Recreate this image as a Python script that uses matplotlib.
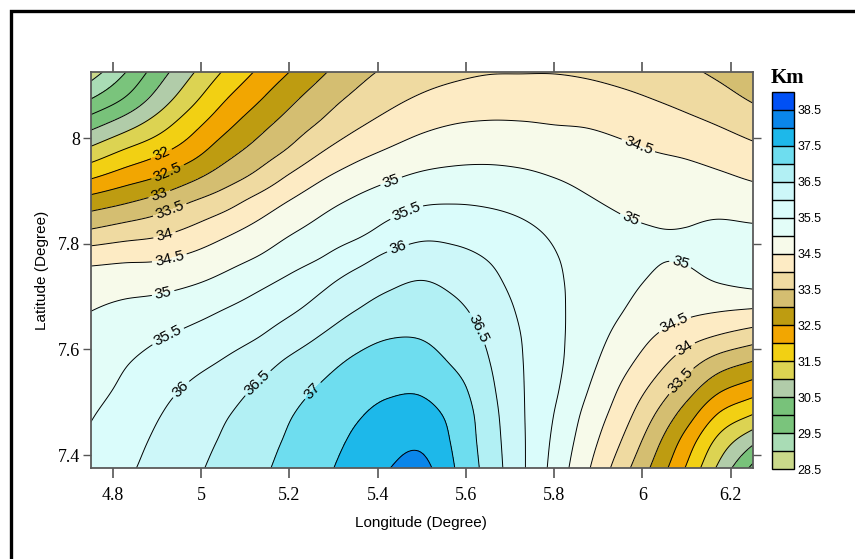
import numpy as np
import matplotlib
matplotlib.use("Agg")
import matplotlib.pyplot as plt
from matplotlib.patches import Rectangle

# Grid nodes (degrees)
lon_nodes = [4.75, 4.825, 4.9, 4.975, 5.05, 5.125, 5.2, 5.275, 5.35, 5.425, 5.5,
             5.575, 5.65, 5.725, 5.8, 5.875, 5.95, 6.025, 6.1, 6.175, 6.25]
lat_nodes = [7.375, 7.425, 7.475, 7.525, 7.575, 7.625, 7.675, 7.725,
             7.775, 7.825, 7.875, 7.925, 7.975, 8.025, 8.075, 8.125]

# Depth (km) at each node, one row per latitude (south to north)
depth_km = [
    [35.68, 35.91, 36.15, 36.39, 36.64, 36.89, 37.14, 37.40, 37.70, 37.99, 38.14, 37.50, 36.82, 36.10, 35.34, 34.57, 33.75, 32.90, 31.95, 30.87, 29.87],
    [35.58, 35.82, 36.07, 36.31, 36.55, 36.81, 37.06, 37.31, 37.58, 37.82, 37.90, 37.42, 36.77, 36.09, 35.41, 34.72, 34.01, 33.19, 32.28, 31.32, 30.60],
    [35.47, 35.71, 35.97, 36.21, 36.45, 36.70, 36.97, 37.22, 37.45, 37.63, 37.65, 37.35, 36.72, 36.07, 35.49, 34.86, 34.25, 33.52, 32.74, 31.92, 31.47],
    [35.34, 35.58, 35.84, 36.06, 36.28, 36.54, 36.81, 37.06, 37.29, 37.43, 37.44, 37.18, 36.63, 36.05, 35.58, 35.02, 34.46, 33.88, 33.24, 32.59, 32.24],
    [35.24, 35.46, 35.66, 35.85, 36.04, 36.29, 36.58, 36.84, 37.08, 37.22, 37.18, 36.94, 36.53, 36.03, 35.63, 35.15, 34.68, 34.22, 33.72, 33.25, 32.96],
    [35.12, 35.29, 35.45, 35.61, 35.77, 35.97, 36.24, 36.53, 36.81, 36.97, 36.97, 36.77, 36.43, 36.00, 35.63, 35.24, 34.87, 34.51, 34.20, 33.96, 33.75],
    [34.99, 35.09, 35.18, 35.32, 35.50, 35.70, 35.92, 36.20, 36.49, 36.68, 36.74, 36.60, 36.30, 35.93, 35.61, 35.30, 35.03, 34.79, 34.63, 34.54, 34.47],
    [34.79, 34.83, 34.85, 34.96, 35.14, 35.38, 35.62, 35.90, 36.21, 36.42, 36.53, 36.39, 36.14, 35.84, 35.58, 35.33, 35.11, 34.96, 34.91, 35.00, 35.10],
    [34.30, 34.38, 34.42, 34.57, 34.78, 35.00, 35.26, 35.50, 35.80, 36.09, 36.22, 36.13, 35.97, 35.75, 35.53, 35.31, 35.13, 35.02, 35.02, 35.11, 35.20],
    [33.54, 33.71, 33.85, 34.08, 34.36, 34.64, 34.93, 35.17, 35.36, 35.64, 35.84, 35.83, 35.74, 35.60, 35.42, 35.22, 35.07, 35.01, 35.01, 35.07, 35.06],
    [32.79, 33.00, 33.24, 33.54, 33.83, 34.20, 34.56, 34.87, 35.10, 35.30, 35.47, 35.50, 35.46, 35.37, 35.22, 35.06, 34.95, 34.90, 34.88, 34.87, 34.80],
    [31.96, 32.26, 32.52, 32.88, 33.26, 33.63, 34.07, 34.46, 34.74, 34.94, 35.09, 35.15, 35.15, 35.10, 35.00, 34.89, 34.79, 34.72, 34.67, 34.58, 34.45],
    [31.15, 31.55, 31.88, 32.27, 32.77, 33.18, 33.57, 33.99, 34.32, 34.55, 34.73, 34.82, 34.85, 34.82, 34.76, 34.69, 34.60, 34.50, 34.42, 34.29, 34.13],
    [30.33, 30.77, 31.25, 31.80, 32.33, 32.80, 33.21, 33.58, 33.92, 34.18, 34.39, 34.51, 34.55, 34.54, 34.50, 34.47, 34.38, 34.26, 34.13, 33.98, 33.79],
    [29.48, 30.01, 30.67, 31.32, 31.93, 32.41, 32.87, 33.27, 33.60, 33.86, 34.06, 34.19, 34.26, 34.26, 34.25, 34.20, 34.11, 33.99, 33.85, 33.68, 33.44],
    [28.75, 29.45, 30.23, 30.91, 31.53, 32.04, 32.50, 32.94, 33.32, 33.59, 33.77, 33.89, 33.97, 33.98, 33.98, 33.93, 33.84, 33.73, 33.59, 33.39, 33.11],
]

levels = np.arange(28.5, 39.01, 0.5)
fill_colors = ["#CAD98A", "#A9DCB5", "#7AC47C", "#78C27A", "#B1CCA9", "#DCD352", "#F2D013",
               "#F2A601", "#BE9C11", "#D4BE71", "#EFDAA1", "#FDEBC4", "#F7FAEA", "#E3FDF8",
               "#DAFCFB", "#CDF7F9", "#B2F0F4", "#6EDDEF", "#1DB8EA", "#0A86EA", "#0050F5"]
xtick_vals = [4.8, 5.0, 5.2, 5.4, 5.6, 5.8, 6.0, 6.2]
xtick_text = ["4.8", "5", "5.2", "5.4", "5.6", "5.8", "6", "6.2"]
ytick_vals = [7.4, 7.6, 7.8, 8.0]
ytick_text = ["7.4", "7.6", "7.8", "8"]
cbar_ticks = np.arange(28.5, 39, 1.0)

# Where the contour labels sit (lon, lat)
label_pos = [(4.91, 7.97), (4.925, 7.935), (4.906, 7.893), (4.929, 7.864), (4.918, 7.814),
             (4.929, 7.770), (4.914, 7.707), (4.925, 7.625), (4.955, 7.524), (5.129, 7.536),
             (5.254, 7.521), (5.431, 7.918), (5.465, 7.861), (5.446, 7.792), (5.628, 7.640),
             (5.990, 7.984), (5.972, 7.845), (6.085, 7.760), (6.074, 7.646), (6.096, 7.602),
             (6.089, 7.539)]


def cubic_weights(t, n):
    """Catmull-Rom weights for a fractional node index t on n nodes."""
    i = int(np.floor(t))
    i = min(max(i, 0), n - 2)
    u = t - i
    c = [(-u**3 + 2*u**2 - u) / 2, (3*u**3 - 5*u**2 + 2) / 2,
         (-3*u**3 + 4*u**2 + u) / 2, (u**3 - u**2) / 2]
    w = np.zeros(n)
    for k, cc in zip([i - 1, i, i + 1, i + 2], c):
        if k < 0:
            w[0] += 2 * cc; w[1] -= cc
        elif k > n - 1:
            w[n - 1] += 2 * cc; w[n - 2] -= cc
        else:
            w[k] += cc
    return w


def smooth_field(x_nodes, y_nodes, grid, nx=330, ny=220):
    grid = np.asarray(grid, float)
    tx = np.linspace(0, len(x_nodes) - 1, nx)
    ty = np.linspace(0, len(y_nodes) - 1, ny)
    wx = np.array([cubic_weights(t, len(x_nodes)) for t in tx])
    wy = np.array([cubic_weights(t, len(y_nodes)) for t in ty])
    xf = np.interp(tx, np.arange(len(x_nodes)), x_nodes)
    yf = np.interp(ty, np.arange(len(y_nodes)), y_nodes)
    return xf, yf, wy @ grid @ wx.T


plt.rcParams["font.family"] = ["Liberation Sans", "DejaVu Sans"]

lon, lat, Z = smooth_field(lon_nodes, lat_nodes, depth_km)

W, H = 855, 559
fig = plt.figure(figsize=(W / 100, H / 100), dpi=100)
ax = fig.add_axes([90.7 / W, 1 - 468.3 / H, 662 / W, 396.3 / H])
cf = ax.contourf(lon, lat, Z, levels=levels, colors=fill_colors)
cs = ax.contour(lon, lat, Z, levels=levels, colors="k", linewidths=0.7)
ax.clabel(cs, levels=levels, manual=label_pos, inline=True, fmt="%g", fontsize=11,
          inline_spacing=3)

ax.set_xlim(lon_nodes[0], lon_nodes[-1])
ax.set_ylim(lat_nodes[0], lat_nodes[-1])
ax.set_xticks(xtick_vals)
ax.set_xticklabels(xtick_text)
ax.set_yticks(ytick_vals)
ax.set_yticklabels(ytick_text)
for lab in ax.get_xticklabels() + ax.get_yticklabels():
    lab.set_fontfamily("Liberation Serif")
ax.tick_params(axis="x", direction="out", length=7.2, width=1.2, top=True, labeltop=False,
               pad=6, labelsize=13, color="#555555")
ax.tick_params(axis="y", direction="out", length=5.8, width=1.0, right=True, labelright=False,
               pad=2, labelsize=13, color="#555555")
for s in ax.spines.values():
    s.set_color("#5a5a5a")
    s.set_linewidth(1.3)

fig.text(421 / W, 1 - 523 / H, "Longitude (Degree)", ha="center", va="center", fontsize=11)
fig.text(42 / W, 1 - 270 / H, "Latitude (Degree)", ha="center", va="center", fontsize=11,
         rotation=90)

cax = fig.add_axes([772.3 / W, 1 - 469.3 / H, 22 / W, 377.6 / H])
cb = fig.colorbar(cf, cax=cax, ticks=cbar_ticks, drawedges=True)
cb.ax.set_yticklabels([f"{v:g}" for v in cbar_ticks])
cb.ax.tick_params(length=0, labelsize=9, pad=2)
cb.outline.set_edgecolor("k")
cb.outline.set_linewidth(1.0)
cb.dividers.set_color("k")
cb.dividers.set_linewidth(1.0)
fig.text(771 / W, 1 - 83 / H, "Km", fontfamily="Liberation Serif", fontweight="bold",
         fontsize=15, ha="left", va="baseline")

# Page frame around the figure
fig.patches.append(Rectangle((11.3 / W, -0.02), 1.05, 1 - 10.7 / H + 0.02,
                             transform=fig.transFigure, fill=False, edgecolor="k",
                             linewidth=2.4, clip_on=False))

fig.savefig("out.png", dpi=100)
